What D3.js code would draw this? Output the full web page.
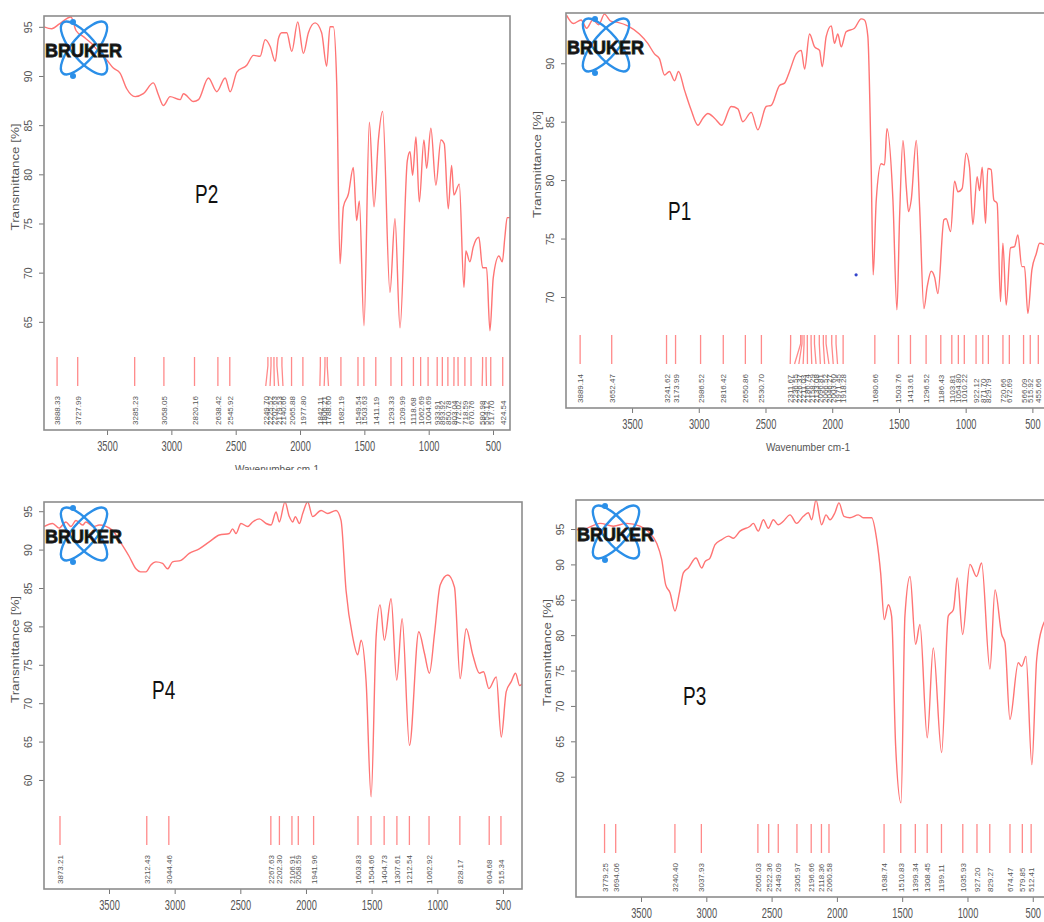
<!DOCTYPE html>
<html><head><meta charset="utf-8">
<script src="https://cdn.jsdelivr.net/npm/d3@7"></script>
<style>
body{margin:0;background:#fff;}
svg text{font-family:"Liberation Sans",Arial,sans-serif;}
</style></head><body>
<svg id="chart" width="1044" height="922"></svg>
<script>
// spectra: [wavenumber, transmittance %]
const p2Spectrum = [[3990,95.0],[3930,94.8],[3870,95.3],[3780,96.0],[3740,94.6],[3684,94.0],[3620,93.3],[3554,92.3],[3500,91.6],[3451,90.8],[3399,90.3],[3347,88.7],[3282,87.9],[3218,88.2],[3140,89.3],[3101,88.1],[3062,87.0],[3010,87.9],[2932,87.6],[2906,88.2],[2828,87.4],[2789,87.6],[2712,89.8],[2647,88.4],[2582,89.8],[2543,88.4],[2491,90.4],[2414,91.1],[2362,92.1],[2310,92.0],[2271,93.7],[2232,93.0],[2193,91.5],[2168,93.8],[2142,94.4],[2103,94.4],[2064,92.5],[2018,95.5],[1974,92.3],[1935,94.4],[1883,95.4],[1832,94.4],[1793,91.0],[1767,95.0],[1741,95.0],[1715,89.3],[1689,70.9],[1663,76.7],[1624,78.0],[1586,80.7],[1560,75.3],[1539,77.3],[1503,64.6],[1461,85.3],[1425,76.7],[1391,83.5],[1358,86.4],[1301,68.0],[1262,75.5],[1223,64.4],[1166,81.4],[1145,82.3],[1125,79.9],[1099,83.8],[1073,77.2],[1037,83.5],[1016,80.6],[983,84.7],[944,78.9],[905,83.5],[879,83.1],[848,76.5],[822,80.9],[804,77.9],[762,79.0],[726,68.5],[711,72.2],[680,71.1],[654,72.6],[610,73.6],[581,70.5],[550,70.5],[524,64.1],[498,69.5],[454,71.7],[428,71.1],[408,73.6],[390,75.6],[368,75.6]];
const p1Spectrum = [[3990,94.1],[3940,93.4],[3882,93.7],[3840,93.0],[3794,93.7],[3750,93.3],[3707,94.2],[3660,93.6],[3607,93.5],[3532,93.2],[3445,92.5],[3382,91.7],[3332,90.8],[3295,90.4],[3257,89.0],[3220,89.3],[3182,88.5],[3152,89.3],[3107,87.7],[3057,86.0],[3007,84.7],[2969,85.3],[2932,85.7],[2882,85.3],[2827,84.7],[2757,86.3],[2707,86.1],[2670,85.0],[2607,85.8],[2557,84.3],[2495,86.3],[2457,86.4],[2395,88.1],[2357,88.3],[2320,89.3],[2270,90.8],[2232,91.1],[2207,89.5],[2170,92.5],[2132,91.4],[2095,91.1],[2075,89.7],[2045,92.3],[2007,93.2],[1983,91.7],[1958,92.5],[1933,91.4],[1896,92.7],[1833,93.0],[1783,93.8],[1758,93.7],[1733,92.3],[1708,81.1],[1693,71.9],[1670,78.3],[1633,81.4],[1608,81.3],[1590,84.4],[1545,78.3],[1515,68.9],[1495,76.9],[1470,83.4],[1445,79.4],[1428,77.3],[1408,78.3],[1370,83.4],[1345,77.7],[1313,69.0],[1288,70.9],[1258,72.2],[1233,71.7],[1208,70.3],[1163,76.6],[1146,76.7],[1113,75.6],[1083,79.9],[1058,79.0],[1026,79.3],[996,82.3],[971,81.1],[946,76.2],[914,80.3],[896,79.1],[876,81.1],[851,76.3],[834,81.0],[809,80.9],[789,78.3],[764,78.0],[739,69.6],[721,74.6],[696,69.3],[664,74.2],[634,74.3],[609,75.3],[579,72.6],[559,72.6],[534,68.6],[504,72.3],[471,73.7],[446,74.6],[400,74.4],[368,74.0]];
const p4Spectrum = [[3995,93.0],[3930,93.4],[3880,92.8],[3828,93.6],[3790,93.0],[3752,93.8],[3700,93.2],[3676,93.6],[3620,93.0],[3574,93.2],[3473,92.5],[3422,91.2],[3346,89.1],[3295,87.5],[3260,87.1],[3219,87.1],[3181,88.0],[3143,88.4],[3092,88.2],[3054,87.5],[3016,88.4],[2952,88.6],[2889,89.5],[2813,90.1],[2737,91.0],[2660,91.9],[2584,92.1],[2559,92.7],[2533,92.1],[2495,93.4],[2444,93.0],[2406,93.6],[2355,94.0],[2304,93.4],[2266,93.2],[2228,94.9],[2203,93.6],[2160,96.2],[2127,94.3],[2101,93.6],[2081,94.3],[2050,93.4],[2025,94.7],[1987,96.2],[1949,94.3],[1885,95.1],[1834,94.7],[1771,95.1],[1733,93.8],[1695,84.7],[1644,78.6],[1606,76.3],[1580,78.2],[1542,72.8],[1504,57.8],[1466,78.6],[1436,82.8],[1403,78.2],[1352,83.6],[1309,73.0],[1268,81.0],[1212,64.5],[1141,79.3],[1098,76.5],[1060,73.9],[1021,79.1],[978,85.4],[920,86.7],[869,85.1],[826,73.2],[780,79.7],[730,76.3],[679,73.9],[648,74.1],[607,71.9],[551,73.4],[513,65.6],[475,71.5],[437,72.8],[404,73.9],[373,72.3],[355,72.5]];
const p3Spectrum = [[3993,94.9],[3916,95.1],[3814,95.8],[3712,95.4],[3610,95.8],[3508,95.4],[3431,94.4],[3380,93.0],[3342,90.7],[3311,87.1],[3278,86.0],[3240,83.4],[3206,86.0],[3176,88.8],[3138,89.5],[3079,90.9],[3035,89.5],[3010,90.4],[2972,90.9],[2933,92.8],[2882,93.5],[2831,94.0],[2793,93.7],[2742,94.7],[2665,95.4],[2640,95.8],[2602,94.7],[2563,96.3],[2525,95.1],[2487,96.3],[2448,95.6],[2410,96.1],[2359,97.0],[2308,95.8],[2257,96.8],[2219,97.3],[2193,96.3],[2160,99.1],[2117,95.6],[2083,97.0],[2053,96.3],[2015,97.3],[1984,98.7],[1946,96.8],[1900,96.6],[1836,97.0],[1798,96.6],[1734,96.6],[1695,93.5],[1665,88.8],[1637,82.2],[1606,84.3],[1581,82.7],[1550,64.3],[1509,56.3],[1479,82.7],[1440,88.3],[1397,78.7],[1364,81.5],[1308,65.5],[1262,78.2],[1198,63.4],[1147,82.7],[1108,83.6],[1078,88.1],[1037,80.1],[981,90.0],[930,88.3],[892,90.2],[828,75.2],[789,86.4],[738,80.1],[713,78.9],[675,68.1],[611,76.1],[585,75.6],[552,77.0],[507,61.7],[470,76.6],[424,81.3],[400,82.2],[368,82.5]];

// picked peaks (wavenumber labels)
const p2Peaks = [3888.33,3727.99,3285.23,3058.05,2820.16,2638.42,2545.92,2249.70,2225.52,2202.63,2179.53,2140.66,2065.88,1977.80,1842.11,1806.21,1788.60,1682.19,1549.54,1503.63,1411.19,1293.33,1209.99,1118.68,1062.69,1004.69,933.91,893.92,850.78,803.04,772.02,718.59,670.76,580.98,554.12,517.70,424.54];
const p1Peaks = [3889.14,3652.47,3241.62,3173.99,2986.52,2816.42,2650.86,2530.70,2311.67,2236.55,2226.37,2211.03,2186.74,2158.29,2133.08,2096.81,2066.52,2046.27,2003.60,1971.45,1918.28,1680.66,1503.76,1413.61,1296.52,1186.43,1103.81,1054.80,1010.22,922.12,871.70,829.79,720.66,672.69,566.09,515.92,455.66];
const p4Peaks = [3873.21,3212.43,3044.46,2267.63,2202.30,2106.91,2058.59,1941.96,1603.83,1504.66,1404.73,1307.61,1212.54,1062.92,828.17,604.68,515.34];
const p3Peaks = [3779.25,3694.06,3240.40,3037.93,2605.03,2522.36,2449.09,2305.97,2196.66,2118.36,2060.58,1638.74,1510.83,1399.34,1308.45,1199.11,1035.93,927.20,829.27,674.47,579.85,512.41];

const p1Marker = [[1821,71.9]];
const xTickValues = [3500,3000,2500,2000,1500,1000,500];

const panels = [
  {id:'p2', name:'P2', spectrum:p2Spectrum, peaks:p2Peaks, left:44, right:510, top:16, bottom:430,
   xDomain:[3990,368], yDomain:[54,96.1], yTicks:[65,70,75,80,85,90,95], clip:[0,0,520,470], label:[195,203], xTitle:true},
  {id:'p1', name:'P1', spectrum:p1Spectrum, peaks:p1Peaks, left:566, right:1050, top:13, bottom:408,
   xDomain:[3995,368], yDomain:[60.5,94.3], yTicks:[70,75,80,85,90], clip:[520,0,524,470], label:[668,220], xTitle:true, marker:p1Marker},
  {id:'p4', name:'P4', spectrum:p4Spectrum, peaks:p4Peaks, left:44, right:522, top:502, bottom:889,
   xDomain:[3995,355], yDomain:[45.8,96.2], yTicks:[60,65,70,75,80,85,90,95], clip:[0,490,524,432], label:[152,699]},
  {id:'p3', name:'P3', spectrum:p3Spectrum, peaks:p3Peaks, left:576, right:1050, top:500, bottom:897,
   xDomain:[3998,368], yDomain:[43,99.1], yTicks:[60,65,70,75,80,85,90,95], clip:[524,490,520,432], label:[683,705]}
];

const svg = d3.select('#chart');
const defs = svg.append('defs');
const red = '#ff7474';

// push crowded labels apart, keeping clusters centred
function spread(xs, gap) {
  const out = xs.slice();
  for (let k = 0; k < 80; k++) {
    for (let i = 1; i < out.length; i++) {
      const d = gap - (out[i] - out[i-1]);
      if (d > 0) { out[i-1] -= d/2; out[i] += d/2; }
    }
  }
  return out;
}

function drawLogo(g, left, top) {
  const cx = left + 40, cy = top + 32;
  [50, -50].forEach(a => {
    g.append('ellipse').attr('cx', cx).attr('cy', cy).attr('rx', 33).attr('ry', 12)
      .attr('transform', `rotate(${a},${cx},${cy})`)
      .attr('fill', 'none').attr('stroke', '#2b8fe8').attr('stroke-width', 2.4);
  });
  [[-11,-26],[-11,28]].forEach(d => g.append('circle').attr('cx', cx+d[0]).attr('cy', cy+d[1]).attr('r', 3).attr('fill', '#2b8fe8'));
  g.append('text').attr('x', left + 1).attr('y', top + 41).text('BRUKER')
    .attr('font-family', '"DejaVu Sans",sans-serif').attr('font-weight', 'bold').attr('font-size', 19)
    .attr('textLength', 77).attr('lengthAdjust', 'spacingAndGlyphs')
    .attr('fill', '#111').attr('stroke', '#222').attr('stroke-width', 0.8);
}

function drawPanel(p) {
  defs.append('clipPath').attr('id', 'clip-' + p.id).append('rect')
    .attr('x', p.clip[0]).attr('y', p.clip[1]).attr('width', p.clip[2]).attr('height', p.clip[3]);
  defs.append('clipPath').attr('id', 'plot-' + p.id).append('rect')
    .attr('x', p.left).attr('y', p.top).attr('width', p.right - p.left).attr('height', p.bottom - p.top);

  const g = svg.append('g').attr('clip-path', `url(#clip-${p.id})`);
  const x = d3.scaleLinear().domain(p.xDomain).range([p.left, p.right]);
  const y = d3.scaleLinear().domain(p.yDomain).range([p.bottom, p.top]);

  // x axis
  const xa = g.append('g').attr('transform', `translate(0,${p.bottom})`)
    .call(d3.axisBottom(x).tickValues(xTickValues).tickSize(5).tickFormat(d3.format('d')));
  xa.select('.domain').remove();
  xa.selectAll('line').attr('stroke', '#777');
  xa.selectAll('text').attr('font-size', 15).attr('fill', '#555').attr('y', 10)
    .attr('font-family', '"Liberation Sans",Arial,sans-serif').attr('transform', 'scale(0.62,1)');

  // y axis, labels parallel to the axis
  const ya = g.append('g').attr('transform', `translate(${p.left},0)`)
    .call(d3.axisLeft(y).tickValues(p.yTicks).tickSize(5));
  ya.select('.domain').remove();
  ya.selectAll('line').attr('stroke', '#777');
  ya.selectAll('text').attr('x', null).attr('dy', null).attr('text-anchor', 'middle')
    .attr('font-size', 10.5).attr('fill', '#555').attr('font-family', '"Liberation Sans",Arial,sans-serif')
    .attr('transform', 'translate(-12,0) rotate(-90)');

  const midY = (p.top + p.bottom) / 2 - 46;
  g.append('text').attr('transform', `translate(${p.left - 25},${midY}) rotate(-90)`)
    .attr('text-anchor', 'middle').attr('font-size', 10).attr('fill', '#555')
    .attr('textLength', 107).attr('lengthAdjust', 'spacingAndGlyphs')
    .text('Transmittance [%]');

  if (p.xTitle) {
    g.append('text').attr('x', (p.left + p.right) / 2).attr('y', p.bottom + 43)
      .attr('text-anchor', 'middle').attr('font-size', 10).attr('fill', '#555')
      .text('Wavenumber cm-1');
  }

  // peak markers and labels
  const px = p.peaks.map(d => x(d)).sort((a, b) => a - b);
  const lx = spread(px, 4.3);
  const y0 = p.bottom - 73, y1 = p.bottom - 44;
  const pk = g.append('g');
  px.forEach((v, i) => {
    pk.append('polyline')
      .attr('points', `${v},${y0} ${v},${y0 + (y1 - y0) * 0.3} ${lx[i]},${y1}`)
      .attr('fill', 'none').attr('stroke', '#ff8a8a').attr('stroke-width', 1.3);
  });
  const sorted = p.peaks.slice().sort((a, b) => b - a);
  sorted.forEach((v, i) => {
    pk.append('text').attr('transform', `translate(${lx[i] + 3},${p.bottom - 5}) rotate(-90)`)
      .attr('font-size', 8).attr('fill', '#555').text(d3.format('.2f')(v));
  });

  // spectrum
  const line = d3.line().x(d => x(d[0])).y(d => y(d[1])).curve(d3.curveMonotoneX);
  g.append('path').datum(p.spectrum).attr('clip-path', `url(#plot-${p.id})`)
    .attr('d', line).attr('fill', 'none').attr('stroke', red).attr('stroke-width', 1.4);

  if (p.marker) {
    g.selectAll('.mk').data(p.marker).enter().append('circle')
      .attr('cx', d => x(d[0])).attr('cy', d => y(d[1])).attr('r', 1.6).attr('fill', '#3344cc');
  }

  // frame
  g.append('rect').attr('x', p.left).attr('y', p.top)
    .attr('width', p.right - p.left).attr('height', p.bottom - p.top)
    .attr('fill', 'none').attr('stroke', '#8c8c8c').attr('stroke-width', 1.6);

  drawLogo(g, p.left, p.top);

  g.append('text').attr('transform', `translate(${p.label[0]},${p.label[1]}) scale(0.76,1)`)
    .attr('font-size', 25).attr('fill', '#111').text(p.name);
}

panels.forEach(drawPanel);
</script>
</body></html>
